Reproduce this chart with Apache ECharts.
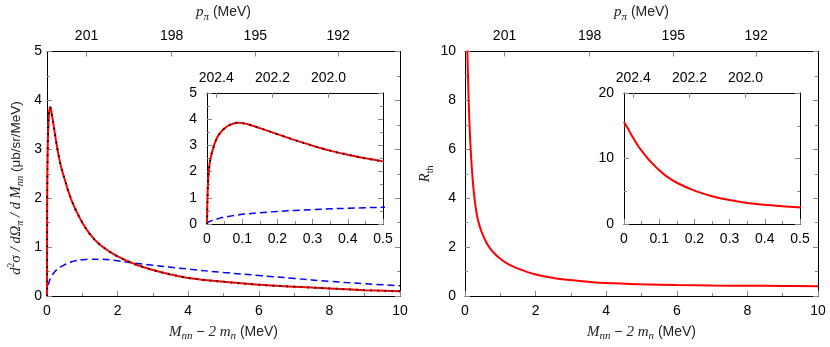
<!DOCTYPE html>
<html>
<head>
<meta charset="utf-8">
<script src="https://cdn.jsdelivr.net/npm/echarts@6/dist/echarts.min.js"></script>
<style>html,body{margin:0;padding:0;background:#fff}#c{width:830px;height:347px}</style>
</head>
<body>
<div id="c"></div>
<script>
// ---- data ----
const xVals = [0, 0.002, 0.005, 0.01, 0.02, 0.03, 0.04, 0.05, 0.06, 0.07, 0.085, 0.1, 0.12, 0.15, 0.2, 0.25, 0.3, 0.35, 0.4, 0.45, 0.5, 0.6, 0.7, 0.8, 1.0, 1.2, 1.5, 2.0, 2.5, 3.0, 3.5, 4, 5, 6, 7, 8, 9, 10];
const crossFull = [0, 1.3, 2.0, 2.5, 3.0, 3.33, 3.52, 3.65, 3.75, 3.81, 3.86, 3.85, 3.79, 3.66, 3.43, 3.20, 2.99, 2.80, 2.64, 2.51, 2.39, 2.15, 1.95, 1.78, 1.50, 1.28, 1.05, 0.81, 0.65, 0.53, 0.44, 0.37, 0.29, 0.23, 0.19, 0.155, 0.12, 0.095];
const crossOther = [0, 0.05, 0.08, 0.11, 0.16, 0.20, 0.24, 0.27, 0.29, 0.31, 0.34, 0.37, 0.39, 0.43, 0.48, 0.52, 0.55, 0.58, 0.60, 0.62, 0.64, 0.67, 0.70, 0.72, 0.74, 0.75, 0.75, 0.72, 0.67, 0.63, 0.59, 0.55, 0.48, 0.42, 0.36, 0.30, 0.25, 0.21];
const ratioR = [15.6, 15.4, 15.1, 14.7, 13.7, 12.8, 11.9, 11.2, 10.5, 9.85, 9.0, 8.2, 7.3, 6.3, 5.1, 4.25, 3.65, 3.22, 2.93, 2.70, 2.52, 2.2, 1.97, 1.79, 1.52, 1.32, 1.12, 0.88, 0.74, 0.65, 0.58, 0.53, 0.48, 0.45, 0.43, 0.42, 0.41, 0.40];
const topTickPos = [1.12, 3.53, 5.90, 8.25];
const topTickLabels = ['201', '198', '195', '192'];
const insetTopPos = [0.026, 0.186, 0.345];
const insetTopLabels = ['202.4', '202.2', '202.0'];

// ---- build ----
const pairs = ys => xVals.map((x, i) => [x, ys[i]]);
const SANS = 'Liberation Sans';
const SERIF = 'Liberation Serif';
const FS = 14;
const TICK = '#888';

function makeRich(base) {
  return {
    n: {fontFamily: SANS, fontSize: base, color: '#222', lineHeight: 20, verticalAlign: 'middle'},
    i: {fontFamily: SERIF, fontStyle: 'italic', fontSize: base + 1, color: '#222', lineHeight: 20, verticalAlign: 'middle'},
    u: {fontFamily: SERIF, fontSize: base + 1, color: '#222', lineHeight: 20, verticalAlign: 'middle'},
    sub: {fontFamily: SERIF, fontStyle: 'italic', fontSize: base - 3, color: '#222', lineHeight: 20, verticalAlign: 'bottom'},
    subn: {fontFamily: SANS, fontSize: base - 4, color: '#222', lineHeight: 20, verticalAlign: 'bottom'},
    sup: {fontFamily: SERIF, fontSize: base - 4, color: '#222', lineHeight: 20, verticalAlign: 'top'}
  };
}

function nearestLabel(v, pos, labels) {
  let best = 0;
  for (let k = 1; k < pos.length; k++) if (Math.abs(pos[k] - v) < Math.abs(pos[best] - v)) best = k;
  return labels[best];
}

const lineBlack = {show: true, onZero: false, lineStyle: {color: '#000', width: 1}};

function bottomAxis(grid, max, interval, name) {
  return {
    type: 'value', gridIndex: grid, position: 'bottom', min: 0, max: max, interval: interval,
    axisLine: lineBlack,
    axisTick: {show: true, inside: true, length: 5, lineStyle: {color: TICK}},
    minorTick: {show: true, splitNumber: 2, length: 3, lineStyle: {color: TICK}},
    splitLine: {show: false},
    axisLabel: {show: true, margin: 8, fontFamily: SANS, fontSize: FS, color: '#000',
      formatter: v => (interval < 1 ? (v === 0 ? '0' : v.toFixed(1)) : String(Math.round(v)))},
    name: name || '', nameLocation: 'middle', nameGap: 26, nameTextStyle: {rich: makeRich(14)}
  };
}
function topAxis(grid, max, pos, labels, name) {
  return {
    type: 'value', gridIndex: grid, position: 'top', min: 0, max: max,
    axisLine: lineBlack,
    axisTick: {show: true, inside: true, length: 5, customValues: pos, lineStyle: {color: TICK}},
    splitLine: {show: false},
    axisLabel: {show: true, margin: 8, fontFamily: SANS, fontSize: FS, color: '#000', customValues: pos,
      formatter: v => nearestLabel(v, pos, labels)},
    name: name || '', nameLocation: 'middle', nameGap: 29, nameTextStyle: {rich: makeRich(14)}
  };
}
function leftAxis(grid, max, interval, margin, name, gap) {
  return {
    type: 'value', gridIndex: grid, position: 'left', min: 0, max: max, interval: interval,
    axisLine: lineBlack,
    axisTick: {show: true, inside: true, length: 5, lineStyle: {color: TICK}},
    minorTick: {show: true, splitNumber: 2, length: 3, lineStyle: {color: TICK}},
    splitLine: {show: false},
    axisLabel: {show: true, margin: margin, fontFamily: SANS, fontSize: FS, color: '#000'},
    name: name || '', nameLocation: 'middle', nameRotate: 90, nameGap: gap || 20,
    nameTextStyle: {rich: makeRich(13.5)}
  };
}
function rightAxis(grid, max, interval) {
  return {
    type: 'value', gridIndex: grid, position: 'right', min: 0, max: max, interval: interval,
    axisLine: lineBlack,
    axisTick: {show: true, inside: true, length: 5, lineStyle: {color: TICK}},
    minorTick: {show: true, splitNumber: 2, length: 3, lineStyle: {color: TICK}},
    splitLine: {show: false},
    axisLabel: {show: false}
  };
}

const xName = '{i|M}{sub|nn}{n| − }{i|2 m}{sub|n}{n| (MeV)}';
const pName = '{i|p}{sub|π}{n| (MeV)}';
const yName1 = '{i|d}{sup|2}{u|σ}{i| / dΩ}{sub|π}{i| / d M}{sub|nn}{n| (μb/sr/MeV)}';
const yName2 = '{i|R}{subn|th}';

const SM = 0.4;
function redLine(xi, yi, data) {
  return {type: 'line', xAxisIndex: xi, yAxisIndex: yi, data: data, showSymbol: false, symbol: 'none',
    smooth: SM, clip: true, z: 3, lineStyle: {color: '#ff0000', width: 2}};
}
function dotLine(xi, yi, data) {
  return {type: 'line', xAxisIndex: xi, yAxisIndex: yi, data: data, showSymbol: false, symbol: 'none',
    smooth: SM, clip: true, z: 4, lineStyle: {color: '#000', width: 2, type: [1.5, 5.5]}};
}
function blueLine(xi, yi, data) {
  return {type: 'line', xAxisIndex: xi, yAxisIndex: yi, data: data, showSymbol: false, symbol: 'none',
    smooth: SM, clip: true, z: 3, lineStyle: {color: '#0000ff', width: 1.5, type: [7, 4]}};
}

const chart = echarts.init(document.getElementById('c'), null, {renderer: 'canvas'});
chart.setOption({
  animation: false,
  backgroundColor: '#fff',
  grid: [
    {left: 47, top: 49, width: 353, height: 249, containLabel: false},
    {left: 207, top: 93, width: 176, height: 131, containLabel: false, show: true, backgroundColor: '#fff', borderWidth: 0},
    {left: 465, top: 49, width: 353, height: 249, containLabel: false},
    {left: 624, top: 93, width: 176, height: 131, containLabel: false, show: true, backgroundColor: '#fff', borderWidth: 0}
  ],
  graphic: [{
    type: 'text', x: 16, y: 188, rotation: Math.PI / 2, z: 10,
    style: {text: yName1, rich: makeRich(13.5), align: 'center', verticalAlign: 'middle', fill: '#222'}
  }],
  xAxis: [
    bottomAxis(0, 10, 2, xName),
    topAxis(0, 10, topTickPos, topTickLabels, pName),
    bottomAxis(1, 0.5, 0.1),
    topAxis(1, 0.5, insetTopPos, insetTopLabels),
    bottomAxis(2, 10, 2, xName),
    topAxis(2, 10, topTickPos, topTickLabels, pName),
    bottomAxis(3, 0.5, 0.1),
    topAxis(3, 0.5, insetTopPos, insetTopLabels)
  ],
  yAxis: [
    leftAxis(0, 5, 1, 5),
    rightAxis(0, 5, 1),
    leftAxis(1, 5, 1, 10),
    rightAxis(1, 5, 1),
    leftAxis(2, 10, 2, 9, yName2, 30),
    rightAxis(2, 10, 2),
    leftAxis(3, 20, 10, 10),
    rightAxis(3, 20, 10)
  ],
  series: [
    blueLine(0, 0, pairs(crossOther)),
    redLine(0, 0, pairs(crossFull)),
    dotLine(0, 0, pairs(crossFull)),
    blueLine(2, 2, pairs(crossOther)),
    redLine(2, 2, pairs(crossFull)),
    dotLine(2, 2, pairs(crossFull)),
    redLine(4, 4, pairs(ratioR)),
    redLine(6, 6, pairs(ratioR))
  ]
});
</script>
</body>
</html>
